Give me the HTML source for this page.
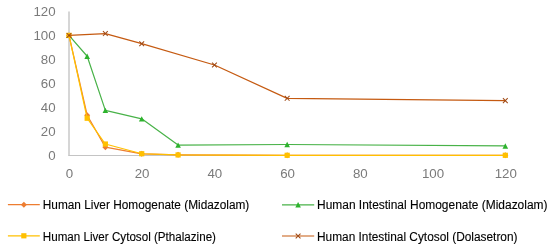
<!DOCTYPE html>
<html><head><meta charset="utf-8"><style>
html,body{margin:0;padding:0;background:#fff;width:550px;height:250px;overflow:hidden}
svg{display:block;will-change:transform}
.ax{font-family:"Liberation Sans",sans-serif;font-size:13.3px;fill:#7A7A7A}
.lg{font-family:"Liberation Sans",sans-serif;font-size:12px;fill:#000;stroke:#000;stroke-width:0.12px}
</style></head><body>
<svg width="550" height="250" viewBox="0 0 550 250">
<line x1="69.0" y1="11.4" x2="69.0" y2="155.5" stroke="#C8C8C8" stroke-width="1.5"/>
<line x1="68.25" y1="155.5" x2="505.32" y2="155.5" stroke="#C4C4C4" stroke-width="1.1"/>
<text x="55.6" y="159.70" text-anchor="end" class="ax">0</text>
<text x="55.6" y="135.72" text-anchor="end" class="ax">20</text>
<text x="55.6" y="111.74" text-anchor="end" class="ax">40</text>
<text x="55.6" y="87.76" text-anchor="end" class="ax">60</text>
<text x="55.6" y="63.78" text-anchor="end" class="ax">80</text>
<text x="55.6" y="39.80" text-anchor="end" class="ax">100</text>
<text x="55.6" y="15.82" text-anchor="end" class="ax">120</text>
<text x="69.40" y="178.4" text-anchor="middle" class="ax">0</text>
<text x="142.12" y="178.4" text-anchor="middle" class="ax">20</text>
<text x="214.84" y="178.4" text-anchor="middle" class="ax">40</text>
<text x="287.56" y="178.4" text-anchor="middle" class="ax">60</text>
<text x="360.28" y="178.4" text-anchor="middle" class="ax">80</text>
<text x="433.00" y="178.4" text-anchor="middle" class="ax">100</text>
<text x="505.72" y="178.4" text-anchor="middle" class="ax">120</text>
<path d="M69.00 35.40L87.18 115.25L105.36 147.15L141.72 153.86L178.08 154.82L287.16 155.30L505.32 155.30" stroke="#ED7D31" stroke-width="1.2" fill="none" stroke-linejoin="round" stroke-linecap="round"/>
<path d="M69.00 32.40L72.00 35.40L69.00 38.40L66.00 35.40Z" fill="#ED7D31"/>
<path d="M87.18 112.25L90.18 115.25L87.18 118.25L84.18 115.25Z" fill="#ED7D31"/>
<path d="M105.36 144.15L108.36 147.15L105.36 150.15L102.36 147.15Z" fill="#ED7D31"/>
<path d="M141.72 150.86L144.72 153.86L141.72 156.86L138.72 153.86Z" fill="#ED7D31"/>
<path d="M178.08 151.82L181.08 154.82L178.08 157.82L175.08 154.82Z" fill="#ED7D31"/>
<path d="M287.16 152.30L290.16 155.30L287.16 158.30L284.16 155.30Z" fill="#ED7D31"/>
<path d="M505.32 152.30L508.32 155.30L505.32 158.30L502.32 155.30Z" fill="#ED7D31"/>
<path d="M69.00 35.40L87.18 56.26L105.36 110.34L141.72 118.85L178.08 145.11L287.16 144.51L505.32 145.95" stroke="#48B248" stroke-width="1.2" fill="none" stroke-linejoin="round" stroke-linecap="round"/>
<path d="M69.00 32.70L71.80 38.10L66.20 38.10Z" fill="#2DB32D"/>
<path d="M87.18 53.56L89.98 58.96L84.38 58.96Z" fill="#2DB32D"/>
<path d="M105.36 107.64L108.16 113.04L102.56 113.04Z" fill="#2DB32D"/>
<path d="M141.72 116.15L144.52 121.55L138.92 121.55Z" fill="#2DB32D"/>
<path d="M178.08 142.41L180.88 147.81L175.28 147.81Z" fill="#2DB32D"/>
<path d="M287.16 141.81L289.96 147.21L284.36 147.21Z" fill="#2DB32D"/>
<path d="M505.32 143.25L508.12 148.65L502.52 148.65Z" fill="#2DB32D"/>
<path d="M69.00 35.40L87.18 118.25L105.36 144.03L141.72 153.74L178.08 154.94L287.16 155.30L505.32 155.30" stroke="#FFC000" stroke-width="1.2" fill="none" stroke-linejoin="round" stroke-linecap="round"/>
<rect x="66.40" y="32.80" width="5.20" height="5.20" fill="#FFC000"/>
<rect x="84.58" y="115.65" width="5.20" height="5.20" fill="#FFC000"/>
<rect x="102.76" y="141.43" width="5.20" height="5.20" fill="#FFC000"/>
<rect x="139.12" y="151.14" width="5.20" height="5.20" fill="#FFC000"/>
<rect x="175.48" y="152.34" width="5.20" height="5.20" fill="#FFC000"/>
<rect x="284.56" y="152.70" width="5.20" height="5.20" fill="#FFC000"/>
<rect x="502.72" y="152.70" width="5.20" height="5.20" fill="#FFC000"/>
<path d="M69.00 35.40L105.36 33.60L141.72 43.67L214.44 65.02L287.16 98.35L505.32 100.63" stroke="#C55A11" stroke-width="1.2" fill="none" stroke-linejoin="round" stroke-linecap="round"/>
<path d="M66.60 33.00L71.40 37.80M71.40 33.00L66.60 37.80" stroke="#A04A15" stroke-width="1.05" fill="none"/>
<path d="M102.96 31.20L107.76 36.00M107.76 31.20L102.96 36.00" stroke="#A04A15" stroke-width="1.05" fill="none"/>
<path d="M139.32 41.27L144.12 46.07M144.12 41.27L139.32 46.07" stroke="#A04A15" stroke-width="1.05" fill="none"/>
<path d="M212.04 62.62L216.84 67.42M216.84 62.62L212.04 67.42" stroke="#A04A15" stroke-width="1.05" fill="none"/>
<path d="M284.76 95.95L289.56 100.75M289.56 95.95L284.76 100.75" stroke="#A04A15" stroke-width="1.05" fill="none"/>
<path d="M502.92 98.23L507.72 103.03M507.72 98.23L502.92 103.03" stroke="#A04A15" stroke-width="1.05" fill="none"/>
<line x1="7.9" y1="204.7" x2="39.8" y2="204.7" stroke="#ED7D31" stroke-width="1.2"/>
<path d="M23.85 201.70L26.85 204.70L23.85 207.70L20.85 204.70Z" fill="#ED7D31"/>
<text x="42.8" y="208.5" class="lg" textLength="206.5" lengthAdjust="spacingAndGlyphs">Human Liver Homogenate (Midazolam)</text>
<line x1="282" y1="204.8" x2="314.2" y2="204.8" stroke="#48B248" stroke-width="1.2"/>
<path d="M298.10 202.10L300.90 207.50L295.30 207.50Z" fill="#2DB32D"/>
<text x="317.0" y="208.5" class="lg" textLength="230.5" lengthAdjust="spacingAndGlyphs">Human Intestinal Homogenate (Midazolam)</text>
<line x1="7.9" y1="235.8" x2="39.8" y2="235.8" stroke="#FFC000" stroke-width="1.2"/>
<rect x="21.25" y="233.20" width="5.20" height="5.20" fill="#FFC000"/>
<text x="42.8" y="240.5" class="lg" textLength="173.2" lengthAdjust="spacingAndGlyphs">Human Liver Cytosol (Pthalazine)</text>
<line x1="282" y1="236.0" x2="314.2" y2="236.0" stroke="#C55A11" stroke-width="1.2"/>
<path d="M295.70 233.60L300.50 238.40M300.50 233.60L295.70 238.40" stroke="#A04A15" stroke-width="1.05" fill="none"/>
<text x="317.0" y="240.5" class="lg" textLength="200.5" lengthAdjust="spacingAndGlyphs">Human Intestinal Cytosol (Dolasetron)</text>
</svg>
</body></html>
